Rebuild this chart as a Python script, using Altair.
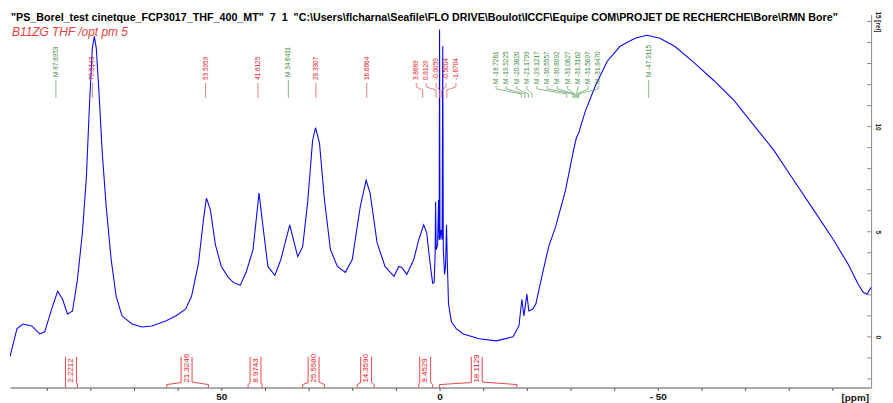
import altair as alt
import pandas as pd

# ---------------- spectrum ----------------
ppm = [98.41, 96.82, 95.45, 93.41, 91.59, 90.45, 88.86, 87.50, 86.36, 85.23,
       84.09, 82.95, 81.82, 80.91, 80.23, 79.55, 79.09, 78.64, 77.95, 77.27,
       76.36, 75.23, 74.09, 72.73, 70.45, 68.18, 65.91, 62.73, 60.45, 58.18,
       56.82, 55.23, 54.09, 53.41, 52.50, 51.36, 50.00, 48.41, 47.27, 45.68,
       44.32, 42.73, 41.36, 40.45, 39.32, 37.73, 36.36, 34.32, 33.64, 32.50,
       31.36, 30.23, 29.09, 28.41, 27.50, 26.36, 25.00, 23.41, 21.59, 20.00,
       18.18, 16.82, 15.91, 14.32, 12.50, 10.45, 9.32, 8.64, 7.50, 5.91,
       4.77, 3.64, 2.95, 2.27, 1.59, 1.25, 1.02, 0.91, 0.77, 0.45,
       0.23, 0.09, 0.00, -0.09, -0.34, -0.59, -0.73, -0.86, -1.14, -1.36,
       -1.59, -1.77, -2.05, -2.73, -3.86, -5.45, -9.09, -12.95, -16.82, -18.18,
       -18.86, -19.32, -20.00, -20.45, -21.36, -22.05, -23.64, -25.00, -26.59, -28.86,
       -30.68, -31.36, -31.82, -33.41, -35.68, -38.41, -41.36, -44.77, -47.50, -50.45,
       -53.86, -58.41, -62.95, -67.50, -72.05, -76.59, -81.14, -85.68, -90.23, -93.64,
       -95.91, -97.05, -97.95, -98.86]
intensity = [-0.94, 0.38, 0.61, 0.52, 0.14, 0.24, 1.32, 2.17, 1.79, 1.08,
             1.23, 2.74, 4.95, 7.59, 10.90, 13.73, 14.29, 13.73, 11.37, 8.73,
             6.18, 3.68, 1.93, 0.99, 0.61, 0.47, 0.52, 0.75, 0.99, 1.32,
             1.93, 3.49, 5.57, 6.60, 6.04, 4.39, 3.35, 2.83, 2.59, 2.45,
             3.07, 4.15, 6.84, 5.24, 3.35, 2.92, 3.68, 5.33, 4.76, 3.82,
             4.29, 6.37, 9.34, 9.95, 9.20, 6.51, 4.15, 3.35, 3.07, 3.68,
             6.18, 7.45, 6.84, 4.48, 3.35, 2.88, 3.35, 3.30, 2.97, 3.68,
             4.62, 5.33, 4.95, 3.68, 2.55, 2.59, 3.92, 6.42, 4.15, 4.39,
             6.51, 4.62, 14.62, 4.62, 5.09, 4.62, 13.82, 4.15, 2.97, 3.30,
             5.33, 3.58, 1.56, 0.71, 0.38, 0.14, -0.09, -0.19, 0.00, 0.52,
             1.79, 0.99, 2.03, 1.23, 1.32, 1.56, 3.07, 4.29, 5.24, 6.98,
             8.87, 9.48, 9.67, 10.75, 11.93, 13.11, 13.82, 14.20, 14.34, 14.20,
             13.82, 13.02, 12.17, 11.23, 10.05, 8.87, 7.45, 6.04, 4.62, 3.44,
             2.50, 2.12, 2.03, 2.36]

# ---------------- peak picking labels ----------------
red_single_text = ["79.5143", "53.5959", "41.6125", "28.3307", "16.6864"]
red_single_ppm = [79.5143, 53.5959, 41.6125, 28.3307, 16.6864]
green_single_text = ["M 87.8953", "M 34.6411", "M -47.9115"]
green_single_ppm = [87.8953, 34.6411, -47.9115]
red_group_text = ["3.8689", "0.8129", "-0.0059", "-0.5004", "-1.6704"]
red_group_ppm = [3.8689, 0.8129, -0.0059, -0.5004, -1.6704]
green_group_text = ["M -18.7261", "M -19.5225", "M -20.3620", "M -21.1799", "M -29.1217",
                    "M -30.5557", "M -30.8092", "M -31.0627", "M -31.3162", "M -31.5697",
                    "M -31.8470"]
green_group_ppm = [-18.7261, -19.5225, -20.3620, -21.1799, -29.1217,
                   -30.5557, -30.8092, -31.0627, -31.3162, -31.5697, -31.8470]
# label anchor positions of the spread-out groups (ppm)
red_group_label = [5.34, 3.07, 0.80, -1.48, -3.75]
green_group_label = [-12.95, -15.30, -17.64, -19.98, -22.32, -24.66,
                     -27.00, -29.34, -31.68, -34.02, -36.36]

# ---------------- integrals ----------------
int_text = ["2.2212", "21.3246", "8.9743", "25.5580", "14.3590", "9.4529", "18.1129"]
int_center = [84.43, 57.95, 42.16, 28.86, 16.82, 3.30, -8.52]
int_start = [85.68, 62.50, 43.86, 31.36, 18.86, 4.77, 0.00]
int_end = [82.95, 52.95, 40.68, 26.36, 15.00, 1.59, -17.73]

x_ticks = list(range(-90, 100, 10))
y_ticks = list(range(-2, 16))

NB = "\u00a0"
header1 = ('"PS_Borel_test cinetque_FCP3017_THF_400_MT"' + NB * 2 + "7" + NB * 2 + "1" + NB * 2 +
           '"C:\\Users\\flcharna\\Seafile\\FLO DRIVE\\Boulot\\ICCF\\Equipe COM\\'
           'PROJET DE RECHERCHE\\Bore\\RMN Bore"')
header2 = "B11ZG THF /opt pm 5"

# ---------------- layout ----------------
W, H = 868, 376
TOP = 13  # page y of plot top
def pv(page_y):
    return page_y - TOP

XD = [-98.86, 98.41]
YD = [-2.41, 15.33]
RED = "#e8141c"
GREEN = "#3d8a3d"
RED_L = "#e06060"
GREEN_L = "#6aa86a"
BLUE = "#0a0aee"
FONT = "Liberation Sans"
LFONT = "Liberation Sans Narrow, Liberation Sans, Arial"

xs = alt.Scale(domain=XD, reverse=True, nice=False, zero=False)
ys = alt.Scale(domain=YD, nice=False, zero=False)

spec = pd.DataFrame({"ppm": ppm, "i": intensity})
line = alt.Chart(spec).mark_line(color=BLUE, strokeWidth=1.1, clip=True).encode(
    x=alt.X("ppm:Q", scale=xs, axis=alt.Axis(
        values=x_ticks, grid=False, title=None, tickSize=3, tickColor="#555",
        domainColor="#555", labelFontSize=10, labelFontWeight="bold", labelFont=FONT,
        labelColor="#111", labelPadding=1,
        labelExpr="datum.value == 50 ? '50' : datum.value == 0 ? '0' : datum.value == -50 ? '- 50' : ''")),
    y=alt.Y("i:Q", scale=ys, axis=alt.Axis(
        orient="right", values=[0, 5, 10, 15], grid=False, title=None, ticks=False,
        tickSize=0, domainColor="#888", labelFontSize=6.5, labelFont=FONT,
        labelFontWeight="bold", labelColor="#222", labelAngle=90, labelPadding=6,
        labelAlign="center", labelBaseline="middle",
        labelExpr="datum.value == 15 ? '15 [rel]' : datum.label")),
    order=alt.Order("ppm:Q", sort="descending"),
)

ytick_df = pd.DataFrame({"v": y_ticks})
yticks = alt.Chart(ytick_df).mark_rule(color="#888").encode(
    y=alt.Y("v:Q", scale=ys), x=alt.value(W - 4), x2=alt.value(W))


def labels(texts, lppm, color, bottom):
    df = pd.DataFrame({"t": texts, "lx": lppm})
    return alt.Chart(df).mark_text(
        angle=270, align="left", baseline="middle", font=LFONT, fontSize=6.5,
        color=color).encode(x=alt.X("lx:Q", scale=xs), y=alt.value(pv(bottom)), text="t")


def seg(lx, px, color, y1, y2):
    df = pd.DataFrame({"a": lx, "b": px})
    return alt.Chart(df).mark_rule(color=color, strokeWidth=0.8).encode(
        x=alt.X("a:Q", scale=xs), x2="b:Q", y=alt.value(pv(y1)), y2=alt.value(pv(y2)))


layers = [line, yticks]
# singles
layers.append(labels(red_single_text, red_single_ppm, RED, 79))
layers.append(seg(red_single_ppm, red_single_ppm, RED_L, 82, 97))
layers.append(labels(green_single_text, green_single_ppm, GREEN, 76))
layers.append(seg(green_single_ppm, green_single_ppm, GREEN_L, 79, 97))
# red group
layers.append(labels(red_group_text, red_group_label, RED, 79))
layers.append(seg(red_group_label, red_group_label, RED_L, 82, 86))
layers.append(seg(red_group_label, red_group_ppm, RED_L, 86, 89))
layers.append(seg(red_group_ppm, red_group_ppm, RED_L, 89, 97))
# green group
layers.append(labels(green_group_text, green_group_label, GREEN, 83))
layers.append(seg(green_group_label, green_group_label, GREEN_L, 85, 88))
layers.append(seg(green_group_label, green_group_ppm, GREEN_L, 88, 93))
layers.append(seg(green_group_ppm, green_group_ppm, GREEN_L, 93, 97))

# integrals
HW = 1.25
left_flank = [c + HW for c in int_center]
right_flank = [c - HW for c in int_center]
int_df = pd.DataFrame({"t": int_text, "c": int_center})
layers.append(alt.Chart(int_df).mark_text(
    angle=270, align="left", baseline="middle", font=LFONT, fontSize=8, color=RED
).encode(x=alt.X("c:Q", scale=xs), y=alt.value(pv(384)), text="t"))
layers.append(seg(left_flank, left_flank, RED, 358, 384))
layers.append(seg(right_flank, right_flank, RED, 358, 383.5))
layers.append(seg(left_flank, int_start, RED, 384, 386))
layers.append(seg(right_flank, int_end, RED, 383.5, 386))
layers.append(seg(int_start, int_start, RED, 386, 389))
layers.append(seg(int_end, int_end, RED, 386, 389))

# header texts
layers.append(alt.Chart(pd.DataFrame({"t": [header1]})).mark_text(
    align="left", baseline="middle", font=FONT, fontSize=10.8, fontWeight="bold", color="#000"
).encode(x=alt.value(1), y=alt.value(pv(16.5)), text="t"))
layers.append(alt.Chart(pd.DataFrame({"t": [header2]})).mark_text(
    align="left", baseline="middle", font=FONT, fontSize=12, fontStyle="italic", color="#e8403a"
).encode(x=alt.value(2), y=alt.value(pv(31)), text="t"))
layers.append(alt.Chart(pd.DataFrame({"t": ["[ppm]"]})).mark_text(
    align="center", baseline="middle", font=FONT, fontSize=10, fontWeight="bold", color="#111"
).encode(x=alt.value(W - 16), y=alt.value(pv(400)), text="t"))

chart = alt.layer(*layers).properties(
    width=W, height=H, autosize=alt.AutoSizeParams(type="none"),
    padding={"left": 2, "top": 5, "right": 14, "bottom": 14},
    background="white",
).configure_view(stroke=None)

chart.save("out.html", embed_options={"renderer": "svg", "actions": False})
